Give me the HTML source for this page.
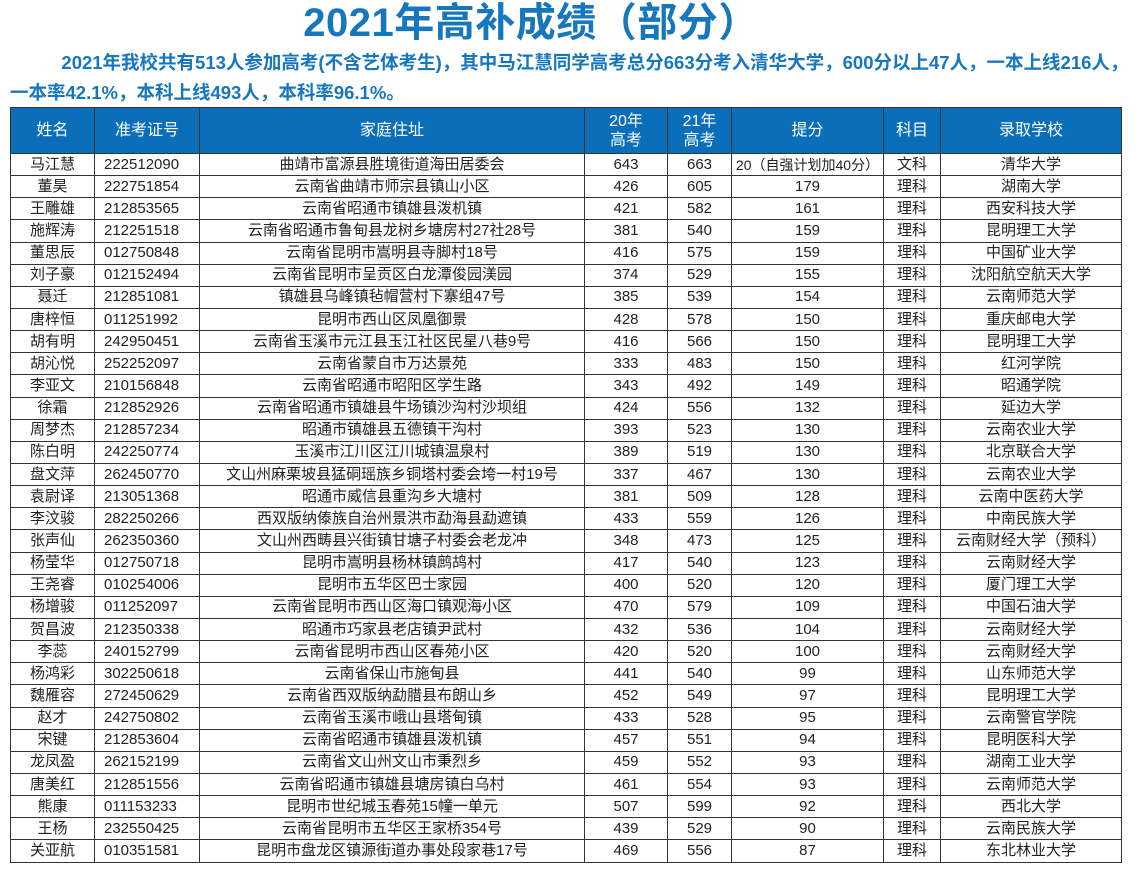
<!DOCTYPE html>
<html><head><meta charset="utf-8"><style>
body{margin:0;width:1146px;height:872px;background:#fff;overflow:hidden;position:relative;font-family:"Liberation Sans","Noto Sans CJK SC",sans-serif;}
.title{position:absolute;left:0;width:1062px;top:0px;text-align:center;font-size:40px;font-weight:bold;color:#1777bd;line-height:46px;letter-spacing:0.5px}
.sub{position:absolute;left:10px;top:48px;width:1200px;font-size:18.5px;font-weight:bold;color:#1777bd;line-height:30px;white-space:nowrap}
table{position:absolute;left:10px;top:107px;border-collapse:collapse;table-layout:fixed;width:1111px;font-size:15px;color:#222}
td,th{border:1.5px solid #333;padding:0;text-align:center;white-space:nowrap;overflow:hidden}
th{background:#0a6fb8;color:#fff;font-weight:normal;font-size:16px;height:45px;line-height:19px}
td{height:21.15px;line-height:18px}
td.id{text-align:left;padding-left:9px}
</style></head><body>
<div class="title">2021年高补成绩（部分）</div>
<div class="sub">&nbsp;&nbsp;&nbsp;&nbsp;&nbsp;&nbsp;&nbsp;&nbsp;&nbsp;&nbsp;2021年我校共有513人参加高考(不含艺体考生)，其中马江慧同学高考总分663分考入清华大学，600分以上47人，一本上线216人，<br>一本率42.1%，本科上线493人，本科率96.1%。</div>
<table>
<colgroup><col style="width:84px"><col style="width:105px"><col style="width:385px"><col style="width:83px"><col style="width:64px"><col style="width:152px"><col style="width:57px"><col style="width:181px"></colgroup>
<tr><th>姓名</th><th>准考证号</th><th>家庭住址</th><th>20年<br>高考</th><th>21年<br>高考</th><th>提分</th><th>科目</th><th>录取学校</th></tr>
<tr><td>马江慧</td><td class="id">222512090</td><td>曲靖市富源县胜境街道海田居委会</td><td>643</td><td>663</td><td style="font-size:14px">20（自强计划加40分）</td><td>文科</td><td>清华大学</td></tr>
<tr><td>董昊</td><td class="id">222751854</td><td>云南省曲靖市师宗县镇山小区</td><td>426</td><td>605</td><td>179</td><td>理科</td><td>湖南大学</td></tr>
<tr><td>王雕雄</td><td class="id">212853565</td><td>云南省昭通市镇雄县泼机镇</td><td>421</td><td>582</td><td>161</td><td>理科</td><td>西安科技大学</td></tr>
<tr><td>施辉涛</td><td class="id">212251518</td><td>云南省昭通市鲁甸县龙树乡塘房村27社28号</td><td>381</td><td>540</td><td>159</td><td>理科</td><td>昆明理工大学</td></tr>
<tr><td>董思辰</td><td class="id">012750848</td><td>云南省昆明市嵩明县寺脚村18号</td><td>416</td><td>575</td><td>159</td><td>理科</td><td>中国矿业大学</td></tr>
<tr><td>刘子豪</td><td class="id">012152494</td><td>云南省昆明市呈贡区白龙潭俊园渼园</td><td>374</td><td>529</td><td>155</td><td>理科</td><td>沈阳航空航天大学</td></tr>
<tr><td>聂迁</td><td class="id">212851081</td><td>镇雄县乌峰镇毡帽营村下寨组47号</td><td>385</td><td>539</td><td>154</td><td>理科</td><td>云南师范大学</td></tr>
<tr><td>唐梓恒</td><td class="id">011251992</td><td>昆明市西山区凤凰御景</td><td>428</td><td>578</td><td>150</td><td>理科</td><td>重庆邮电大学</td></tr>
<tr><td>胡有明</td><td class="id">242950451</td><td>云南省玉溪市元江县玉江社区民星八巷9号</td><td>416</td><td>566</td><td>150</td><td>理科</td><td>昆明理工大学</td></tr>
<tr><td>胡沁悦</td><td class="id">252252097</td><td>云南省蒙自市万达景苑</td><td>333</td><td>483</td><td>150</td><td>理科</td><td>红河学院</td></tr>
<tr><td>李亚文</td><td class="id">210156848</td><td>云南省昭通市昭阳区学生路</td><td>343</td><td>492</td><td>149</td><td>理科</td><td>昭通学院</td></tr>
<tr><td>徐霜</td><td class="id">212852926</td><td>云南省昭通市镇雄县牛场镇沙沟村沙坝组</td><td>424</td><td>556</td><td>132</td><td>理科</td><td>延边大学</td></tr>
<tr><td>周梦杰</td><td class="id">212857234</td><td>昭通市镇雄县五德镇干沟村</td><td>393</td><td>523</td><td>130</td><td>理科</td><td>云南农业大学</td></tr>
<tr><td>陈白明</td><td class="id">242250774</td><td>玉溪市江川区江川城镇温泉村</td><td>389</td><td>519</td><td>130</td><td>理科</td><td>北京联合大学</td></tr>
<tr><td>盘文萍</td><td class="id">262450770</td><td>文山州麻栗坡县猛硐瑶族乡铜塔村委会垮一村19号</td><td>337</td><td>467</td><td>130</td><td>理科</td><td>云南农业大学</td></tr>
<tr><td>袁尉译</td><td class="id">213051368</td><td>昭通市威信县重沟乡大塘村</td><td>381</td><td>509</td><td>128</td><td>理科</td><td>云南中医药大学</td></tr>
<tr><td>李汶骏</td><td class="id">282250266</td><td>西双版纳傣族自治州景洪市勐海县勐遮镇</td><td>433</td><td>559</td><td>126</td><td>理科</td><td>中南民族大学</td></tr>
<tr><td>张声仙</td><td class="id">262350360</td><td>文山州西畴县兴街镇甘塘子村委会老龙冲</td><td>348</td><td>473</td><td>125</td><td>理科</td><td>云南财经大学（预科）</td></tr>
<tr><td>杨莹华</td><td class="id">012750718</td><td>昆明市嵩明县杨林镇鹧鸪村</td><td>417</td><td>540</td><td>123</td><td>理科</td><td>云南财经大学</td></tr>
<tr><td>王尧睿</td><td class="id">010254006</td><td>昆明市五华区巴士家园</td><td>400</td><td>520</td><td>120</td><td>理科</td><td>厦门理工大学</td></tr>
<tr><td>杨增骏</td><td class="id">011252097</td><td>云南省昆明市西山区海口镇观海小区</td><td>470</td><td>579</td><td>109</td><td>理科</td><td>中国石油大学</td></tr>
<tr><td>贺昌波</td><td class="id">212350338</td><td>昭通市巧家县老店镇尹武村</td><td>432</td><td>536</td><td>104</td><td>理科</td><td>云南财经大学</td></tr>
<tr><td>李蕊</td><td class="id">240152799</td><td>云南省昆明市西山区春苑小区</td><td>420</td><td>520</td><td>100</td><td>理科</td><td>云南财经大学</td></tr>
<tr><td>杨鸿彩</td><td class="id">302250618</td><td>云南省保山市施甸县</td><td>441</td><td>540</td><td>99</td><td>理科</td><td>山东师范大学</td></tr>
<tr><td>魏雁容</td><td class="id">272450629</td><td>云南省西双版纳勐腊县布朗山乡</td><td>452</td><td>549</td><td>97</td><td>理科</td><td>昆明理工大学</td></tr>
<tr><td>赵才</td><td class="id">242750802</td><td>云南省玉溪市峨山县塔甸镇</td><td>433</td><td>528</td><td>95</td><td>理科</td><td>云南警官学院</td></tr>
<tr><td>宋键</td><td class="id">212853604</td><td>云南省昭通市镇雄县泼机镇</td><td>457</td><td>551</td><td>94</td><td>理科</td><td>昆明医科大学</td></tr>
<tr><td>龙凤盈</td><td class="id">262152199</td><td>云南省文山州文山市秉烈乡</td><td>459</td><td>552</td><td>93</td><td>理科</td><td>湖南工业大学</td></tr>
<tr><td>唐美红</td><td class="id">212851556</td><td>云南省昭通市镇雄县塘房镇白乌村</td><td>461</td><td>554</td><td>93</td><td>理科</td><td>云南师范大学</td></tr>
<tr><td>熊康</td><td class="id">011153233</td><td>昆明市世纪城玉春苑15幢一单元</td><td>507</td><td>599</td><td>92</td><td>理科</td><td>西北大学</td></tr>
<tr><td>王杨</td><td class="id">232550425</td><td>云南省昆明市五华区王家桥354号</td><td>439</td><td>529</td><td>90</td><td>理科</td><td>云南民族大学</td></tr>
<tr><td>关亚航</td><td class="id">010351581</td><td>昆明市盘龙区镇源街道办事处段家巷17号</td><td>469</td><td>556</td><td>87</td><td>理科</td><td>东北林业大学</td></tr>
</table>
</body></html>
